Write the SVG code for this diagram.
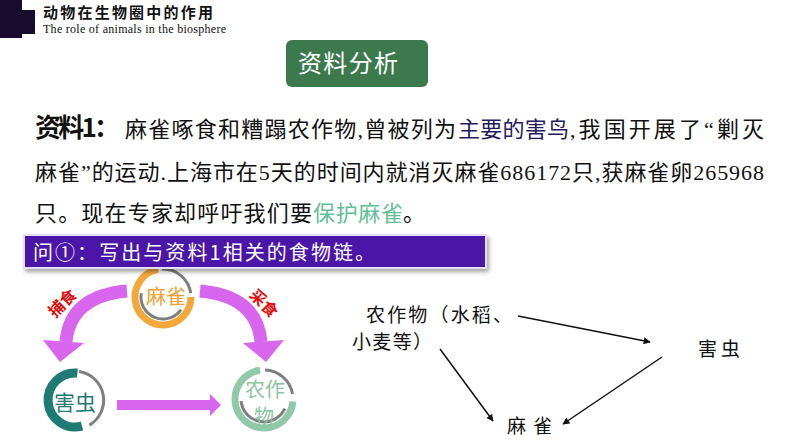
<svg xmlns="http://www.w3.org/2000/svg" width="794" height="447" viewBox="0 0 794 447">
<defs>
<style>
.cjk{font-family:"Noto Sans CJK SC","Noto Sans CJK TC",sans-serif}
.ser{font-family:"Liberation Serif","Noto Sans CJK SC",serif}
.body{font-size:22px;fill:#111}
.arc{fill:none}
.gray{stroke:#7f7f7f;stroke-width:3;fill:none}
.mag{fill:#d865ee}
.magline{stroke:#d865ee;fill:none;stroke-width:13}
.red{font-size:16px;fill:#e01010;font-weight:bold}
.blk{stroke:#111;stroke-width:1.5;fill:none;marker-end:url(#ah)}
.lbl{font-size:19px;fill:#111}
</style>
<marker id="ah" viewBox="0 0 10 10" refX="9" refY="5" markerWidth="7" markerHeight="7" orient="auto" markerUnits="userSpaceOnUse">
<path d="M0,0 L10,5 L0,10 z" fill="#111"/>
</marker>
<filter id="sh" x="-5%" y="-30%" width="110%" height="160%">
<feDropShadow dx="2" dy="3" stdDeviation="2" flood-color="#000" flood-opacity="0.35"/>
</filter>
</defs>
<rect width="794" height="447" fill="#fff"/>

<g id="header">
<rect x="0" y="0" width="22" height="38" fill="#170b2e"/>
<rect x="22" y="10" width="13" height="24" fill="#170b2e"/>
<text x="43" y="18" class="cjk" font-size="15" font-weight="bold" fill="#111" textLength="170">动物在生物圈中的作用</text>
<text x="43" y="33" font-family="Liberation Serif,serif" font-size="12" fill="#111" textLength="183">The role of animals in the biosphere</text>
</g>

<g id="title-button">
<rect x="286" y="40" width="142" height="47" rx="6" fill="#3c7a4e"/>
<text x="298" y="72" class="cjk" font-size="24" fill="#fff" textLength="100">资料分析</text>
</g>

<g id="paragraph">
<text x="35" y="137" class="cjk" font-size="26" font-weight="bold" fill="#111" textLength="85">资料1：</text>
<text x="125" y="137" class="ser body" textLength="331">麻雀啄食和糟蹋农作物,曾被列为</text>
<text x="458" y="137" class="ser body" style="fill:#241a5e" textLength="111">主要的害鸟</text>
<text x="570" y="137" class="ser body" textLength="194">,我国开展了“剿灭</text>
<text x="35" y="180" class="ser body" textLength="729">麻雀”的运动.上海市在5天的时间内就消灭麻雀686172只,获麻雀卵265968</text>
<text x="35" y="221" class="ser body" textLength="277">只。现在专家却呼吁我们要</text>
<text x="313" y="221" class="ser body" style="fill:#5fbf95" textLength="90">保护麻雀</text>
<text x="403" y="221" class="ser body" textLength="20">。</text>
</g>

<g id="node-maque">
<path class="arc" d="M158.1,269.4 A28,28 0 1 0 191,297" stroke="#f5a83a" stroke-width="7"/>
<path class="gray" d="M162,269 A28,28 0 0 1 190.7,293.1"/>
<path class="gray" d="M141.3,293.2 A22,22 0 0 0 181,309.6"/>
<text x="166" y="304" class="cjk" font-size="20" fill="#f0a030" text-anchor="middle">麻雀</text>
</g>

<g id="question">
<rect x="24" y="235" width="462" height="33" fill="#4b15a7" stroke="#e6defa" stroke-width="2" filter="url(#sh)"/>
<text x="33" y="260" class="cjk" font-size="20" fill="#fff" textLength="342">问①：写出与资料1相关的食物链。</text>
</g>

<g id="node-haichong">
<path class="arc" d="M77.4,373.1 A27,27 0 1 0 82,426.1" stroke="#1e7b73" stroke-width="9"/>
<path class="gray" d="M79,371.5 A29,29 0 0 1 89.5,425.1"/>
<text x="75" y="410" class="cjk" font-size="21" fill="#1e7b73" text-anchor="middle">害虫</text>
</g>

<g id="node-nongzuowu">
<path class="arc" d="M260,370.3 A29,29 0 1 0 292.9,401.5" stroke="#8fc9a9" stroke-width="7"/>
<path class="gray" d="M265,370 A29,29 0 0 1 292.6,394"/>
<path class="gray" d="M241.1,401 A23,23 0 0 0 284.8,408.7"/>
<text x="265" y="397" class="cjk" font-size="20" fill="#8dc4a3" text-anchor="middle">农作</text>
<text x="264" y="424" class="cjk" font-size="20" fill="#8dc4a3" text-anchor="middle">物</text>
</g>

<g id="connectors-left">
<path class="magline" d="M127,291 Q70,296 66,342"/>
<polygon class="mag" points="43,340 84,343 60,362"/>
<path class="magline" d="M200,291 Q257,296 261,342"/>
<polygon class="mag" points="243,343 284,340 266,362"/>
<rect class="mag" x="117" y="400" width="95" height="10"/>
<polygon class="mag" points="210,394 221,405 210,416"/>
<text class="cjk red" transform="translate(62,303) rotate(-45)" text-anchor="middle" dy="6">捕食</text>
<text class="cjk red" transform="translate(264,303) rotate(45)" text-anchor="middle" dy="6">采食</text>
</g>

<g id="node-crops">
<text x="366" y="322" class="cjk lbl" textLength="146">农作物（水稻、</text>
<text x="352" y="349" class="cjk lbl" textLength="80">小麦等）</text>
</g>
<g id="node-pest">
<text x="698" y="356" class="cjk lbl" textLength="42">害虫</text>
</g>
<g id="node-sparrow">
<text x="507" y="433" class="cjk lbl" textLength="45">麻雀</text>
</g>

<g id="connectors-right">
<line class="blk" x1="518" y1="316" x2="650" y2="342"/>
<line class="blk" x1="662" y1="357" x2="563" y2="424"/>
<line class="blk" x1="440" y1="349" x2="493" y2="421"/>
</g>
</svg>
